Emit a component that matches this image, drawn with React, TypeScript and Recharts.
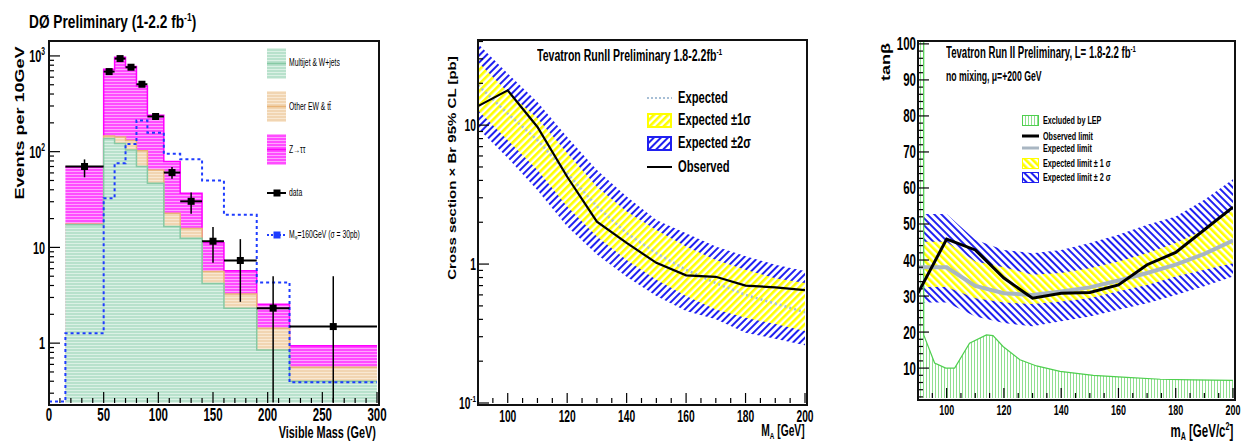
import React from 'react';
import {
  ComposedChart,
  Area,
  Line,
  Scatter,
  ErrorBar,
  XAxis,
  YAxis,
} from 'recharts';

const PAGE_W = 1252;
const PAGE_H = 442;
const FONT = '"Liberation Sans", Arial, Helvetica, sans-serif';
const SX = 0.64; // the original lettering is squeezed sideways

// ---------- panel 1: visible mass ----------
const massEdges = [15, 50, 60, 70, 80, 90, 105, 120, 140, 160, 190, 220, 300];
const multijetTop = [17.2, 137, 122, 104, 70, 46.8, 16.5, 12.5, 4.2, 2.32, 0.85, 0.4];
const otherEwTop = [17.6, 146, 142, 131, 102, 64.5, 22.7, 15.8, 5.6, 3.27, 1.43, 0.56];
const zTauTauTop = [69, 726, 968, 774, 486, 240, 79, 36.8, 11.2, 5.7, 2.55, 0.94];
const signalEdges = [0, 15, 50, 60, 70, 80, 90, 105, 120, 140, 160, 190, 220, 300];
const signal160 = [0.245, 1.27, 32.7, 75.7, 120, 211, 158, 94.9, 83.4, 49.9, 21.9, 4.3, 0.39];
const dataX = [32.5, 55, 65, 75, 85, 97.5, 112.5, 130, 150, 175, 205, 260];
const dataY = [70, 686, 938, 762, 506, 233, 60.5, 30.3, 11.6, 7.3, 2.32, 1.49];
const dataLow = [54, 660, 905, 735, 484, 218, 52, 22.5, 6.9, 2.7, 0.24, 0.24];
const dataHigh = [83, 712, 970, 790, 528, 248, 69, 37.5, 16.3, 12.2, 5.0, 5.0];
const dataHalfBin = [17.5, 5, 5, 5, 5, 7.5, 7.5, 10, 10, 15, 15, 40];
const MASS_Y: [number, number] = [0.237, 1432];

// ---------- panel 2: cross section limit ----------
const massA = [90, 100, 110, 120, 130, 140, 150, 160, 170, 180, 190, 200];
const xsObserved = [13.7, 17.8, 9.7, 4.25, 2.02, 1.42, 1.02, 0.83, 0.81, 0.7, 0.68, 0.65];
const xsExpected = [19.4, 12.1, 7.8, 4.5, 2.6, 1.67, 1.2, 0.91, 0.73, 0.6, 0.52, 0.45];
const xs1sLow = [12.8, 7.8, 4.75, 2.6, 1.58, 1.07, 0.77, 0.59, 0.47, 0.41, 0.37, 0.33];
const xs1sHigh = [28.5, 17.3, 11.2, 6.3, 3.6, 2.39, 1.76, 1.34, 1.07, 0.91, 0.79, 0.73];
const xs2sLow = [9.5, 5.8, 3.4, 1.86, 1.17, 0.81, 0.59, 0.46, 0.4, 0.32, 0.29, 0.26];
const xs2sHigh = [38.5, 23.5, 14.7, 8.2, 4.75, 3.06, 2.08, 1.67, 1.34, 1.14, 0.99, 0.89];
const XS_Y: [number, number] = [0.1, 41];

// ---------- panel 3: tan beta ----------
const tbObserved = [30.8, 45.8, 42.8, 35, 29.4, 30.8, 31, 33.1, 38.7, 42.1, 48.4, 54.7];
const tbExpected = [38, 38, 32.8, 30.8, 30.3, 31.3, 32.4, 34.3, 36.4, 38.7, 41.7, 45.4];
const tb1sLow = [32.5, 32.5, 29.4, 28.2, 27.8, 28.5, 29.4, 31.3, 33.1, 35.4, 37.3, 39.1];
const tb1sHigh = [45.1, 45.1, 39.6, 38, 35.9, 36.4, 37.7, 39.6, 41.9, 44.7, 48.4, 53.9];
const tb2sLow = [28.2, 28.2, 24.3, 22.5, 21.6, 23, 24.3, 26.2, 28, 30.3, 32.7, 35.4];
const tb2sHigh = [52.8, 52.8, 45.6, 42.8, 41.9, 42.8, 44.7, 47, 49.8, 52.1, 56.7, 62.4];
const lepMass = [90, 92, 92, 95.8, 99.7, 102.8, 108, 113.9, 116.2, 119.7, 125.6, 131.4, 139.6, 151.2, 162.9, 174.6, 186.2, 200];
const lepTanb = [100.8, 100.8, 19.2, 11.4, 10, 10, 16.9, 19.2, 19, 16, 12.3, 10.6, 9.1, 8, 7.4, 6.9, 6.75, 6.6];
const TB_Y: [number, number] = [1.7, 100.8];

// ---------- tick lists ----------
const range = (a: number, b: number, s: number) => {
  const out: number[] = [];
  for (let v = a; v <= b + 1e-9; v += s) out.push(Math.round(v * 1000) / 1000);
  return out;
};
const logTicks = (lo: number, hi: number) => {
  const out: number[] = [];
  for (let e = -2; e <= 4; e++) {
    for (let m = 1; m <= 9; m++) {
      const v = Math.round(m * Math.pow(10, e) * 1e6) / 1e6;
      if (v >= lo && v <= hi) out.push(v);
    }
  }
  return out;
};
const isDecade = (v: number) => Math.abs(Math.log10(v) - Math.round(Math.log10(v))) < 1e-6;

const massXTicks = range(0, 300, 10);
const massYTicks = logTicks(MASS_Y[0], MASS_Y[1]);
const xsXTicks = range(90, 200, 5);
const xsYTicks = logTicks(XS_Y[0], XS_Y[1]);
const tbXTicks = range(90, 200, 5);
const tbYTicks = range(2, 100, 2);

// ---------- tables ----------
const histTable = massEdges.map((x, i) => {
  const k = Math.min(i, zTauTauTop.length - 1);
  return { x, multijet: multijetTop[k], other: otherEwTop[k], ztt: zTauTauTop[k] };
});
const signalTable = signalEdges.map((x, i) => ({ x, sig: signal160[Math.min(i, signal160.length - 1)] }));
const pointTable = dataX.map((x, i) => ({
  x,
  y: dataY[i],
  ey: [dataY[i] - dataLow[i], dataHigh[i] - dataY[i]],
  ex: [dataHalfBin[i], dataHalfBin[i]],
}));
const xsTable = massA.map((x, i) => ({
  x,
  obs: xsObserved[i],
  exp: xsExpected[i],
  band1: [xs1sLow[i], xs1sHigh[i]],
  band2: [xs2sLow[i], xs2sHigh[i]],
}));
const tbTable = massA.map((x, i) => ({
  x,
  obs: tbObserved[i],
  exp: tbExpected[i],
  band1: [tb1sLow[i], tb1sHigh[i]],
  band2: [tb2sLow[i], tb2sHigh[i]],
}));
const lepTable = lepMass.map((x, i) => ({ x, lep: lepTanb[i] }));

// ---------- ticks (ROOT style: pointing into the frame) ----------
type AxisCfg = {
  pos: number;
  size: number;
  gap: number;
  long: number;
  short: number;
  major: (v: number) => boolean;
  label: (v: number, size: number) => React.ReactNode | null;
};

const BottomTick = ({ x, payload, cfg }: any) => {
  const v = payload.value as number;
  const c = cfg as AxisCfg;
  const big = c.major(v);
  const lab = c.label(v, c.size);
  return (
    <g>
      <line x1={x} x2={x} y1={c.pos} y2={c.pos - (big ? c.long : c.short)} stroke="#000" strokeWidth={1.2} />
      {lab !== null && (
        <text
          transform={`translate(${x},${c.pos + c.gap}) scale(${SX},1)`}
          textAnchor="middle"
          fontFamily={FONT}
          fontWeight="bold"
          fontSize={c.size}
          fill="#000"
        >
          {lab}
        </text>
      )}
    </g>
  );
};

const LeftTick = ({ y, payload, cfg }: any) => {
  const v = payload.value as number;
  const c = cfg as AxisCfg;
  const big = c.major(v);
  const lab = c.label(v, c.size);
  return (
    <g>
      <line x1={c.pos} x2={c.pos + (big ? c.long : c.short)} y1={y} y2={y} stroke="#000" strokeWidth={1.2} />
      {lab !== null && (
        <text
          transform={`translate(${c.pos - c.gap},${y + c.size * 0.36}) scale(${SX},1)`}
          textAnchor="end"
          fontFamily={FONT}
          fontWeight="bold"
          fontSize={c.size}
          fill="#000"
        >
          {lab}
        </text>
      )}
    </g>
  );
};

const powLabel = (v: number, size: number) => {
  if (!isDecade(v)) return null;
  const e = Math.round(Math.log10(v));
  if (e === 0) return '1';
  if (e === 1) return '10';
  return (
    <>
      10
      <tspan dy={-size * 0.42} fontSize={size * 0.62}>
        {e}
      </tspan>
    </>
  );
};

// ---------- html text helpers ----------
const Sup = ({ children }: { children: React.ReactNode }) => (
  <span style={{ fontSize: '0.62em', position: 'relative', top: '-0.6em' }}>{children}</span>
);
const Sub = ({ children }: { children: React.ReactNode }) => (
  <span style={{ fontSize: '0.62em', position: 'relative', top: '0.3em' }}>{children}</span>
);

type TxtProps = {
  x: number;
  base: number;
  size: number;
  sx?: number;
  end?: boolean;
  weight?: string;
  children: React.ReactNode;
};
const Txt = ({ x, base, size, sx = SX, end, weight = 'bold', children }: TxtProps) => (
  <div
    style={{
      position: 'absolute',
      top: base - 0.85 * size,
      ...(end ? { right: PAGE_W - x } : { left: x }),
      fontSize: size,
      lineHeight: 1,
      fontWeight: weight as any,
      whiteSpace: 'nowrap',
      transform: `scaleX(${sx})`,
      transformOrigin: end ? 'right center' : 'left center',
    }}
  >
    {children}
  </div>
);

const VTxt = ({ cx, cy, size, squeeze, children }: any) => (
  <div
    style={{
      position: 'absolute',
      left: cx,
      top: cy,
      fontSize: size,
      lineHeight: 1,
      fontWeight: 'bold',
      whiteSpace: 'nowrap',
      transform: `translate(-50%, -50%) rotate(-90deg) scaleY(${squeeze})`,
    }}
  >
    {children}
  </div>
);

const Frame = ({ left, top, right, bottom }: { left: number; top: number; right: number; bottom: number }) => (
  <div
    style={{
      position: 'absolute',
      left: left - 1,
      top: top - 1,
      width: right - left,
      height: bottom - top,
      border: '2px solid #111',
      pointerEvents: 'none',
    }}
  />
);

const Swatch = ({ x, y, w, h, children }: any) => (
  <svg style={{ position: 'absolute', left: x, top: y, overflow: 'visible' }} width={w} height={h}>
    {children}
  </svg>
);

// ---------- panel components ----------
const MassPanel = () => {
  const xCfg: AxisCfg = {
    pos: 403, size: 18, gap: 18, long: 11, short: 5,
    major: (v) => v % 50 === 0,
    label: (v) => (v % 50 === 0 ? String(v) : null),
  };
  const yCfg: AxisCfg = {
    pos: 49, size: 17, gap: 4, long: 11, short: 5,
    major: isDecade,
    label: powLabel,
  };
  return (
    <div style={{ position: 'absolute', left: 0, top: 0 }}>
      <ComposedChart width={400} height={PAGE_H} margin={{ top: 41, right: 23, bottom: 9, left: 4 }}>
        <XAxis
          type="number"
          dataKey="x"
          domain={[0, 300]}
          ticks={massXTicks}
          interval={0}
          height={30}
          axisLine={false}
          tickLine={false}
          tickSize={0}
          allowDataOverflow
          tick={(p: any) => <BottomTick {...p} cfg={xCfg} />}
        />
        <YAxis
          type="number"
          scale="log"
          domain={MASS_Y}
          ticks={massYTicks}
          interval={0}
          width={45}
          axisLine={false}
          tickLine={false}
          tickSize={0}
          allowDataOverflow
          tick={(p: any) => <LeftTick {...p} cfg={yCfg} />}
        />
        <Area data={histTable} dataKey="ztt" type="stepAfter" baseValue={MASS_Y[0]} fill="url(#hPink)" fillOpacity={1} stroke="#ff00ff" strokeWidth={1.5} isAnimationActive={false} />
        <Area data={histTable} dataKey="other" type="stepAfter" baseValue={MASS_Y[0]} fill="url(#hTan)" fillOpacity={1} stroke="#e9b477" strokeWidth={1.5} isAnimationActive={false} />
        <Area data={histTable} dataKey="multijet" type="stepAfter" baseValue={MASS_Y[0]} fill="url(#hGreen)" fillOpacity={1} stroke="#86c9a4" strokeWidth={1.5} isAnimationActive={false} />
        <Line data={signalTable} dataKey="sig" type="stepAfter" stroke="#1e3cff" strokeWidth={2} strokeDasharray="3 3" dot={false} isAnimationActive={false} />
        <Scatter
          data={pointTable}
          dataKey="y"
          fill="#000"
          isAnimationActive={false}
          shape={(p: any) => <rect x={p.cx - 3.5} y={p.cy - 3.5} width={7} height={7} fill="#000" />}
        >
          <ErrorBar dataKey="ey" direction="y" width={0} stroke="#000" strokeWidth={1.5} isAnimationActive={false} />
          <ErrorBar dataKey="ex" direction="x" width={0} stroke="#000" strokeWidth={2} isAnimationActive={false} />
        </Scatter>
      </ComposedChart>
    </div>
  );
};

const XsecPanel = () => {
  const xCfg: AxisCfg = {
    pos: 403, size: 16, gap: 19, long: 10, short: 5,
    major: (v) => v % 20 === 0,
    label: (v) => (v % 20 === 0 ? String(v) : null),
  };
  const yCfg: AxisCfg = {
    pos: 58, size: 16, gap: 2, long: 11, short: 5,
    major: isDecade,
    label: powLabel,
  };
  return (
    <div style={{ position: 'absolute', left: 420, top: 0 }}>
      <ComposedChart width={400} height={PAGE_H} margin={{ top: 40, right: 15, bottom: 9, left: 13 }}>
        <XAxis
          type="number"
          dataKey="x"
          domain={[90, 200]}
          ticks={xsXTicks}
          interval={0}
          height={30}
          axisLine={false}
          tickLine={false}
          tickSize={0}
          allowDataOverflow
          tick={(p: any) => <BottomTick {...p} cfg={xCfg} />}
        />
        <YAxis
          type="number"
          scale="log"
          domain={XS_Y}
          ticks={xsYTicks}
          interval={0}
          width={45}
          axisLine={false}
          tickLine={false}
          tickSize={0}
          allowDataOverflow
          tick={(p: any) => <LeftTick {...p} cfg={yCfg} />}
        />
        <Area data={xsTable} dataKey="band2" type="linear" fill="url(#dBlue2)" fillOpacity={1} stroke="none" isAnimationActive={false} />
        <Area data={xsTable} dataKey="band1" type="linear" fill="url(#dYellow2)" fillOpacity={1} stroke="none" isAnimationActive={false} />
        <Line data={xsTable} dataKey="exp" type="linear" stroke="#a7bfd6" strokeWidth={2.5} strokeDasharray="2 3" dot={false} isAnimationActive={false} />
        <Line data={xsTable} dataKey="obs" type="linear" stroke="#000" strokeWidth={2.2} dot={false} isAnimationActive={false} />
      </ComposedChart>
    </div>
  );
};

const TanbPanel = () => {
  const xCfg: AxisCfg = {
    pos: 398, size: 14, gap: 17, long: 10, short: 5,
    major: (v) => v % 20 === 0 && v >= 100,
    label: (v) => (v % 20 === 0 && v >= 100 ? String(v) : null),
  };
  const yCfg: AxisCfg = {
    pos: 58, size: 18, gap: 2, long: 11, short: 5,
    major: (v) => v % 10 === 0,
    label: (v) => (v % 10 === 0 ? String(v) : null),
  };
  return (
    <div style={{ position: 'absolute', left: 860, top: 0 }}>
      <ComposedChart width={392} height={PAGE_H} margin={{ top: 41, right: 19, bottom: 14, left: 13 }}>
        <XAxis
          type="number"
          dataKey="x"
          domain={[90, 200]}
          ticks={tbXTicks}
          interval={0}
          height={30}
          axisLine={false}
          tickLine={false}
          tickSize={0}
          allowDataOverflow
          tick={(p: any) => <BottomTick {...p} cfg={xCfg} />}
        />
        <YAxis
          type="number"
          domain={TB_Y}
          ticks={tbYTicks}
          interval={0}
          width={45}
          axisLine={false}
          tickLine={false}
          tickSize={0}
          allowDataOverflow
          tick={(p: any) => <LeftTick {...p} cfg={yCfg} />}
        />
        <Area data={tbTable} dataKey="band2" type="linear" fill="url(#dBlue3)" fillOpacity={1} stroke="none" isAnimationActive={false} />
        <Area data={tbTable} dataKey="band1" type="linear" fill="url(#dYellow3)" fillOpacity={1} stroke="none" isAnimationActive={false} />
        <Area data={lepTable} dataKey="lep" type="linear" baseValue={TB_Y[0]} fill="url(#vLep)" fillOpacity={1} stroke="#4fcf4f" strokeWidth={1.2} isAnimationActive={false} />
        <Line data={tbTable} dataKey="exp" type="linear" stroke="#a9b6c2" strokeWidth={4} dot={false} isAnimationActive={false} />
        <Line data={tbTable} dataKey="obs" type="linear" stroke="#000" strokeWidth={3} dot={false} isAnimationActive={false} />
      </ComposedChart>
    </div>
  );
};

const Patterns = () => (
  <svg width={0} height={0} style={{ position: 'absolute' }}>
    <defs>
      <pattern id="hGreen" patternUnits="userSpaceOnUse" width={4} height={3}>
        <rect width={4} height={3} fill="#b8e1cc" />
        <rect width={4} height={1} fill="#dbf1e5" />
      </pattern>
      <pattern id="hTan" patternUnits="userSpaceOnUse" width={4} height={3}>
        <rect width={4} height={3} fill="#f1d5b2" />
        <rect width={4} height={1} fill="#f9e8d2" />
      </pattern>
      <pattern id="hPink" patternUnits="userSpaceOnUse" width={4} height={3}>
        <rect width={4} height={3} fill="#ff4cff" />
        <rect width={4} height={1} fill="#ffa4ff" />
      </pattern>
      <pattern id="dBlue2" patternUnits="userSpaceOnUse" width={5} height={5} patternTransform="rotate(45)">
        <rect width={5} height={5} fill="#fff" />
        <rect width={2} height={5} fill="#2020f0" />
      </pattern>
      <pattern id="dYellow2" patternUnits="userSpaceOnUse" width={5} height={5} patternTransform="rotate(45)">
        <rect width={5} height={5} fill="#fff" />
        <rect width={2.6} height={5} fill="#ffff00" />
      </pattern>
      <pattern id="dBlue3" patternUnits="userSpaceOnUse" width={5} height={5} patternTransform="rotate(-45)">
        <rect width={5} height={5} fill="#fff" />
        <rect width={2} height={5} fill="#2020f0" />
      </pattern>
      <pattern id="dYellow3" patternUnits="userSpaceOnUse" width={5} height={5} patternTransform="rotate(-45)">
        <rect width={5} height={5} fill="#fff" />
        <rect width={2.6} height={5} fill="#ffff00" />
      </pattern>
      <pattern id="vLep" patternUnits="userSpaceOnUse" width={3} height={3}>
        <rect width={3} height={3} fill="#fff" />
        <rect width={1} height={3} fill="#8fdf8f" />
      </pattern>
    </defs>
  </svg>
);

export default function App() {
  return (
    <div
      style={{
        position: 'absolute',
        left: 0,
        top: 0,
        width: PAGE_W,
        height: PAGE_H,
        overflow: 'hidden',
        background: '#fff',
        fontFamily: FONT,
        color: '#000',
      }}
    >
      <Patterns />
      <MassPanel />
      <XsecPanel />
      <TanbPanel />
      <Frame left={49} top={41} right={377} bottom={403} />
      <Frame left={478} top={40} right={805} bottom={403} />
      <Frame left={918} top={41} right={1233} bottom={398} />

      {/* panel 1 texts */}
      <Txt x={29} base={28} size={19} sx={0.72}>
        DØ Preliminary (1-2.2 fb<Sup>-1</Sup>)
      </Txt>
      <VTxt cx={20} cy={123} size={18} squeeze={0.72}>Events per 10GeV</VTxt>
      <Txt x={376} base={439} size={16} sx={0.68} end>Visible Mass (GeV)</Txt>

      <Swatch x={267} y={48} w={19} h={31}>
        <rect width={19} height={31} fill="url(#hGreen)" />
        <line x1={0} x2={19} y1={15.5} y2={15.5} stroke="#86c9a4" strokeWidth={1.5} />
      </Swatch>
      <Txt x={289} base={66} size={10} sx={0.68} weight="normal">Multijet &amp; W+jets</Txt>
      <Swatch x={267} y={91} w={19} h={31}>
        <rect width={19} height={31} fill="url(#hTan)" />
        <line x1={0} x2={19} y1={15.5} y2={15.5} stroke="#e9b477" strokeWidth={1.5} />
      </Swatch>
      <Txt x={289} base={110} size={10} sx={0.68} weight="normal">Other EW &amp; t{'t\u0304'}</Txt>
      <Swatch x={267} y={134} w={19} h={31}>
        <rect width={19} height={31} fill="url(#hPink)" />
        <line x1={0} x2={19} y1={15.5} y2={15.5} stroke="#ff00ff" strokeWidth={1.5} />
      </Swatch>
      <Txt x={289} base={153} size={10} sx={0.68} weight="normal">Z→ττ</Txt>
      <Swatch x={267} y={187} w={19} h={12}>
        <line x1={0} x2={19} y1={6} y2={6} stroke="#000" strokeWidth={2} />
        <rect x={6.5} y={2.5} width={7} height={7} fill="#000" />
      </Swatch>
      <Txt x={289} base={196} size={10} sx={0.68} weight="normal">data</Txt>
      <Swatch x={267} y={229} w={19} h={12}>
        <line x1={0} x2={19} y1={6} y2={6} stroke="#1e3cff" strokeWidth={2} strokeDasharray="2 2" />
        <rect x={6.5} y={2.5} width={7} height={7} fill="#1e3cff" />
      </Swatch>
      <Txt x={289} base={238} size={10} sx={0.68} weight="normal">
        M<Sub>φ</Sub>=160GeV (σ = 30pb)
      </Txt>

      {/* panel 2 texts */}
      <Txt x={537} base={62} size={16} sx={0.66}>
        Tevatron RunII Preliminary 1.8-2.2fb<Sup>-1</Sup>
      </Txt>
      <VTxt cx={452} cy={168} size={15} squeeze={0.75}>Cross section × Br 95% CL [pb]</VTxt>
      <Txt x={805} base={437} size={16} end>
        M<Sub>A</Sub> [GeV]
      </Txt>
      <Swatch x={647} y={94} w={25} h={8}>
        <line x1={0} x2={25} y1={4} y2={4} stroke="#a7bfd6" strokeWidth={2} strokeDasharray="2 2" />
      </Swatch>
      <Txt x={678} base={104} size={16} sx={0.7}>Expected</Txt>
      <Swatch x={647} y={113} w={25} h={15}>
        <rect x={1} y={1} width={23} height={13} fill="url(#dYellow2)" stroke="#ffff00" strokeWidth={2} />
      </Swatch>
      <Txt x={678} base={126} size={16} sx={0.7}>Expected ±1σ</Txt>
      <Swatch x={647} y={136} w={25} h={15}>
        <rect x={1} y={1} width={23} height={13} fill="url(#dBlue2)" stroke="#2020f0" strokeWidth={2} />
      </Swatch>
      <Txt x={678} base={149} size={16} sx={0.7}>Expected ±2σ</Txt>
      <Swatch x={647} y={163} w={25} h={8}>
        <line x1={0} x2={25} y1={4} y2={4} stroke="#000" strokeWidth={2} />
      </Swatch>
      <Txt x={678} base={173} size={16} sx={0.7}>Observed</Txt>

      {/* panel 3 texts */}
      <Txt x={946} base={59} size={16} sx={0.6}>
        Tevatron Run II Preliminary, L= 1.8-2.2 fb<Sup>-1</Sup>
      </Txt>
      <Txt x={946} base={81} size={14} sx={0.62}>no mixing, μ=+200 GeV</Txt>
      <VTxt cx={886} cy={62} size={18} squeeze={0.72}>tanβ</VTxt>
      <Txt x={1233} base={437} size={18} end>
        m<Sub>A</Sub> [GeV/c<Sup>2</Sup>]
      </Txt>
      <Swatch x={1022} y={115} w={17} h={11}>
        <rect x={0.5} y={0.5} width={16} height={10} fill="url(#vLep)" stroke="#4fcf4f" strokeWidth={1} />
      </Swatch>
      <Txt x={1043} base={124} size={10} sx={0.72}>Excluded by LEP</Txt>
      <Swatch x={1022} y={132} w={17} h={8}>
        <line x1={0} x2={17} y1={4} y2={4} stroke="#000" strokeWidth={3} />
      </Swatch>
      <Txt x={1043} base={140} size={10} sx={0.72}>Observed limit</Txt>
      <Swatch x={1022} y={144} w={17} h={8}>
        <line x1={0} x2={17} y1={4} y2={4} stroke="#a9b6c2" strokeWidth={3} />
      </Swatch>
      <Txt x={1043} base={152} size={10} sx={0.72}>Expected limit</Txt>
      <Swatch x={1022} y={158} w={17} h={11}>
        <rect x={0.5} y={0.5} width={16} height={10} fill="url(#dYellow3)" stroke="#ffff00" strokeWidth={1} />
      </Swatch>
      <Txt x={1043} base={167} size={10} sx={0.72}>Expected limit ± 1 σ</Txt>
      <Swatch x={1022} y={172} w={17} h={11}>
        <rect x={0.5} y={0.5} width={16} height={10} fill="url(#dBlue3)" stroke="#2020f0" strokeWidth={1} />
      </Swatch>
      <Txt x={1043} base={181} size={10} sx={0.72}>Expected limit ± 2 σ</Txt>
    </div>
  );
}
